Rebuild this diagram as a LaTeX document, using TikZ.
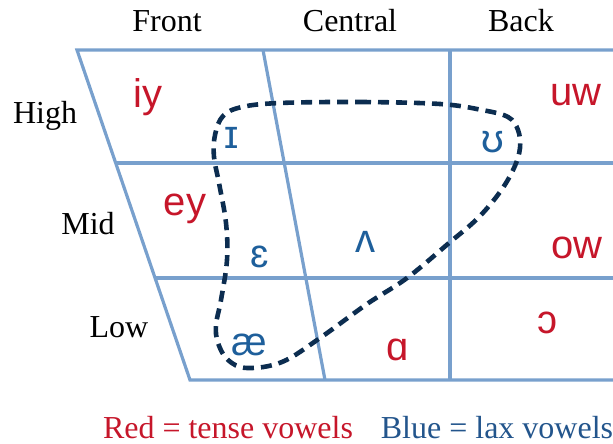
\documentclass[tikz,border=0pt]{standalone}
\usepackage{fontspec}
\setmainfont{Liberation Serif}
\newfontfamily\vowelfont{Liberation Sans}
\definecolor{gridblue}{RGB}{120,160,205}
\definecolor{tensered}{RGB}{198,22,42}
\definecolor{laxblue}{RGB}{30,95,155}
\definecolor{legblue}{RGB}{35,85,140}
\definecolor{dashnavy}{RGB}{12,45,80}
\tikzset{
  gridline/.style={draw=gridblue, line width=3.2pt},
  heading/.style={anchor=base, inner sep=0pt, font=\fontsize{32}{32}\selectfont},
  tense/.style={anchor=base, inner sep=0pt, text=tensered, font=\vowelfont\fontsize{40}{40}\selectfont},
  lax/.style={anchor=base, inner sep=0pt, text=laxblue, font=\vowelfont\fontsize{40}{40}\selectfont},
  laxloop/.style={draw=dashnavy, line width=4.6pt, dash pattern=on 11pt off 7pt},
}
\begin{document}
\begin{tikzpicture}[x=1pt,y=-1pt]
\useasboundingbox (0,0) rectangle (613,444);
% grid coordinates
\coordinate (tl) at (77,50);
\coordinate (tr) at (613,50);
\coordinate (bl) at (190,380);
\coordinate (br) at (613,380);
\coordinate (r1l) at (116,163);
\coordinate (r1r) at (613,163);
\coordinate (r2l) at (155,278);
\coordinate (r2r) at (613,278);
\coordinate (c1t) at (263,50);
\coordinate (c1b) at (325,380);
\coordinate (c2t) at (450,50);
\coordinate (c2b) at (450,380);
\draw[gridline, line join=miter] (tr) -- (tl) -- (bl) -- (br);
\draw[gridline] (r1l) -- (r1r);
\draw[gridline] (r2l) -- (r2r);
\draw[gridline] (c1t) -- (c1b);
\draw[gridline] (c2t) -- (c2b);
% headings
\node[heading] (front) at (167,32) {Front};
\node[heading] (central) at (350,32) {Central};
\node[heading] (back) at (521,32) {Back};
\node[heading] (high) at (45,123) {High};
\node[heading] (mid) at (88,234) {Mid};
\node[heading] (low) at (119,337) {Low};
% lax loop
\draw[laxloop] plot[smooth cycle, tension=0.6] coordinates {
(280,103) (360,102) (440,104) (482,110) (508,117) (518,130) (520,148) (514,168)
(500,192) (478,218) (449,243) (407,278) (367,304) (320,338) (282,362) (247,368)
(228,360) (218,343) (216,325) (221,300) (227,260) (226,223) (219,183) (214,157)
(215,135) (223,116) (242,107)};
% vowels
\node[tense] (iy) at (148,107) {iy};
\node[tense] (uw) at (576,105) {uw};
\node[lax] (ih) at (232,148) {ɪ};
\node[lax] (uh) at (493,152) {ʊ};
\node[tense] (ey) at (185,215) {ey};
\node[lax] (eh) at (260,267) {ɛ};
\node[lax] (ah) at (365,252) {ʌ};
\node[tense] (ow) at (577,258) {ow};
\node[lax] (ae) at (249,355) {æ};
\node[tense] (aa) at (398,360) {ɑ};
\node[tense] (ao) at (547,333) {ɔ};
% legend
\node[heading, text=tensered] (legred) at (228,438) {Red = tense vowels};
\node[heading, text=legblue] (legblue) at (497,438) {Blue = lax vowels};
\end{tikzpicture}
\end{document}
